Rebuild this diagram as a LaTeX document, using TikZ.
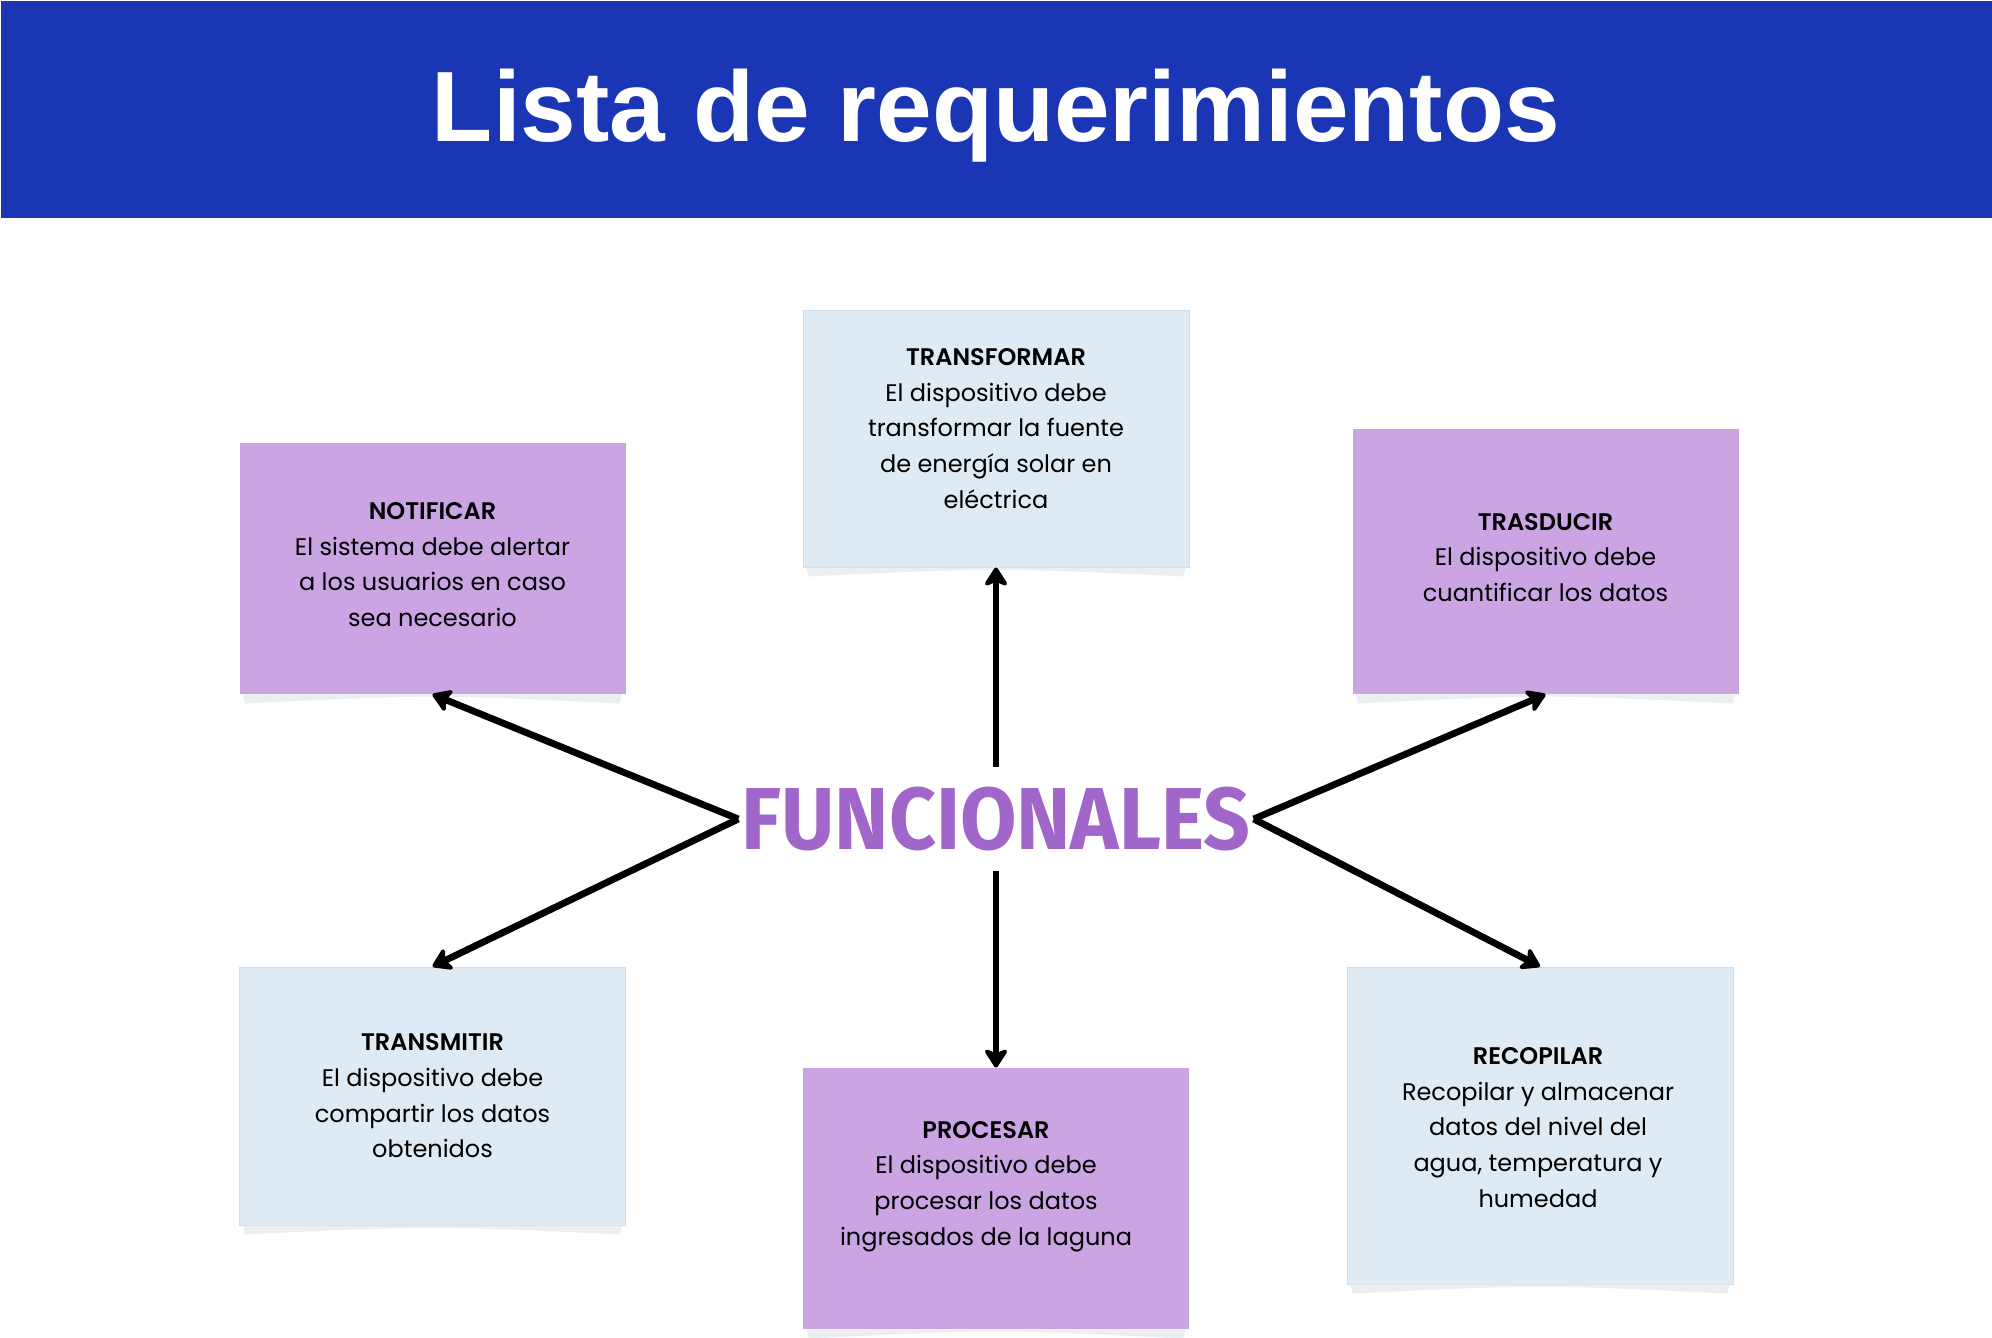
\documentclass[tikz,border=0pt]{standalone}
\usepackage{fontspec}
\setmainfont{Poppins}[BoldFont={Poppins SemiBold}]
\newfontfamily\titlefont{Liberation Sans}
\newfontfamily\funcfont{Fira Sans}
\usetikzlibrary{arrows.meta}

\definecolor{barblue}{RGB}{27,54,180}
\definecolor{lilac}{RGB}{203,164,228}
\definecolor{paleblue}{RGB}{223,235,244}
\definecolor{paleedge}{RGB}{205,222,234}
\definecolor{funcpurple}{RGB}{160,102,201}
\definecolor{shadowgray}{RGB}{236,238,240}

% soft shadow under a box
\newcommand{\boxshadow}[1]{%
  \fill[shadowgray] ([xshift=2pt]#1.south west) -- ([xshift=3pt,yshift=-4.5pt]#1.south west)
    .. controls (#1.south) .. ([xshift=-3pt,yshift=-4.5pt]#1.south east) -- ([xshift=-2pt]#1.south east) -- cycle;}

\begin{document}
\begin{tikzpicture}[x=0.5pt,y=-0.5pt,
    reqbox/.style={minimum width=193pt, inner sep=0pt},
    purplebox/.style={reqbox, fill=lilac},
    bluebox/.style={reqbox, fill=paleblue, draw=paleedge, line width=0.5pt},
    boxtext/.style={align=center, inner sep=0pt, font=\fontsize{12}{17.8}\selectfont},
    conn/.style={line width=3.4pt, -{Stealth[length=11pt,width=14pt,inset=3pt,round]}}]
    \useasboundingbox (0,0) rectangle (1992,1338);
    \fill[white] (0,0) rectangle (1992,1338);

    % title bar
    \fill[barblue] (1,1) rectangle (1992,218);
    \node[text=white, font=\titlefont\bfseries\fontsize{50}{60}\selectfont] (title) at (996,116) {Lista de requerimientos};

    % boxes
    \node[bluebox, minimum height=128.5pt] (transf) at (996,438.5) {};
    \node[purplebox, minimum height=125.5pt] (notif) at (432.5,568.5) {};
    \node[purplebox, minimum height=132.5pt] (trasd) at (1545.5,561.5) {};
    \node[bluebox, minimum height=129pt] (transm) at (432.5,1096) {};
    \node[purplebox, minimum height=130.5pt] (proc) at (996,1198.5) {};
    \node[bluebox, minimum height=158.5pt] (recop) at (1540,1125.5) {};

    \node[boxtext] (transf-txt) at ([yshift=5pt]transf)
        {\textbf{TRANSFORMAR}\\El dispositivo debe\\transformar la fuente\\de energía solar en\\eléctrica};
    \node[boxtext] (notif-txt) at ([yshift=2pt]notif)
        {\textbf{NOTIFICAR}\\El sistema debe alertar\\a los usuarios en caso\\sea necesario};
    \node[boxtext] (trasd-txt) at ([yshift=2pt]trasd)
        {\textbf{TRASDUCIR}\\El dispositivo debe\\cuantificar los datos};
    \node[boxtext] (transm-txt) at (transm)
        {\textbf{TRANSMITIR}\\El dispositivo debe\\compartir los datos\\obtenidos};
    \node[boxtext] (proc-txt) at ([xshift=-5pt,yshift=6pt]proc)
        {\textbf{PROCESAR}\\El dispositivo debe\\procesar los datos\\ingresados de la laguna};
    \node[boxtext] (recop-txt) at ([xshift=-1pt,yshift=-1pt]recop)
        {\textbf{RECOPILAR}\\Recopilar y almacenar\\datos del nivel del\\agua, temperatura y\\humedad};

    \boxshadow{transf}
    \boxshadow{notif}
    \boxshadow{trasd}
    \boxshadow{transm}
    \boxshadow{proc}
    \boxshadow{recop}

    % centre
    \node[text=funcpurple, inner xsep=1.5pt, inner ysep=10pt,
        font=\funcfont\bfseries\fontsize{44}{50}\selectfont] (func) at (996,819) {\scalebox{0.93}[1]{FUNCIONALES}};

    \draw[conn] (func.north) -- (transf.south);
    \draw[conn] (func.south) -- (proc.north);
    \draw[conn] (func.west) -- (notif.south);
    \draw[conn] (func.west) -- (transm.north);
    \draw[conn] (func.east) -- (trasd.south);
    \draw[conn] (func.east) -- (recop.north);
\end{tikzpicture}
\end{document}
